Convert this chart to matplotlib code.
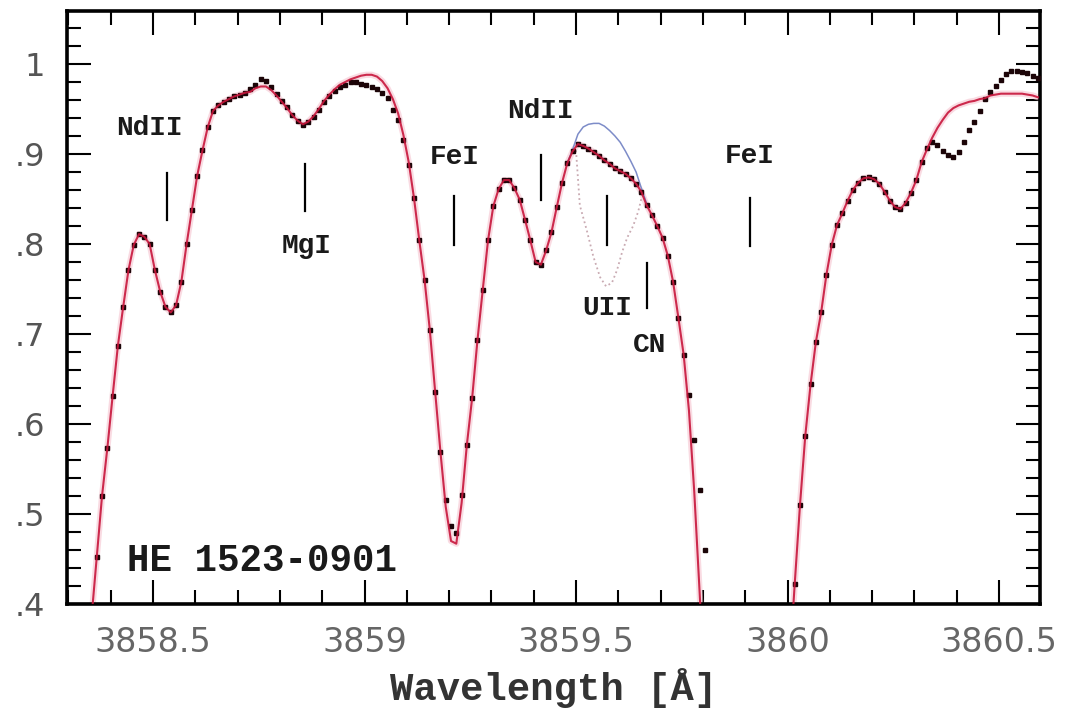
import matplotlib
matplotlib.use("Agg")
import matplotlib.pyplot as plt
import numpy as np
from matplotlib.ticker import MultipleLocator, FixedLocator, FixedFormatter

# observed spectrum, blue part (NaN = point below the plotted range)
wave_a = [
    3858.3545,
    3858.367, 3858.3795, 3858.392, 3858.4045, 3858.417, 3858.4295, 3858.442, 3858.4545,
    3858.467, 3858.4795, 3858.492, 3858.5045, 3858.517, 3858.5295, 3858.542, 3858.5545,
    3858.567, 3858.5795, 3858.592, 3858.6045, 3858.617, 3858.6295, 3858.642, 3858.6545,
    3858.667, 3858.6795, 3858.692, 3858.7045, 3858.717, 3858.7295, 3858.742, 3858.7545,
    3858.767, 3858.7795, 3858.792, 3858.8045, 3858.817, 3858.8295, 3858.842, 3858.8545,
    3858.867, 3858.8795, 3858.892, 3858.9045, 3858.917, 3858.9295, 3858.942, 3858.9545,
    3858.967, 3858.9795, 3858.992, 3859.0045, 3859.017, 3859.0295, 3859.042, 3859.0545,
    3859.067, 3859.0795, 3859.092, 3859.1045, 3859.117, 3859.1295, 3859.142, 3859.1545,
    3859.167, 3859.1795, 3859.192, 3859.2045, 3859.217, 3859.2295, 3859.242, 3859.2545,
    3859.267, 3859.2795, 3859.292, 3859.3045, 3859.317, 3859.3295, 3859.342, 3859.3545,
    3859.367, 3859.3795, 3859.392, 3859.4045, 3859.417, 3859.4295, 3859.442, 3859.4545,
    3859.467, 3859.4795, 3859.492, 3859.5045, 3859.517, 3859.5295, 3859.542, 3859.5545,
    3859.567, 3859.5795, 3859.592, 3859.6045, 3859.617, 3859.6295, 3859.642, 3859.6545,
    3859.667, 3859.6795, 3859.692, 3859.7045, 3859.717, 3859.7295, 3859.742, 3859.7545,
    3859.767, 3859.7795, 3859.792, 3859.8045, 3859.817,
]
obs_a = [
    np.nan,
    0.452, 0.520, 0.573, 0.631, 0.687, 0.730, 0.771, 0.799,
    0.811, 0.808, 0.800, 0.771, 0.747, 0.730, 0.724, 0.732,
    0.758, 0.800, 0.838, 0.876, 0.904, 0.930, 0.948, 0.954,
    0.958, 0.961, 0.964, 0.966, 0.968, 0.972, 0.977, 0.983,
    0.981, 0.974, 0.967, 0.959, 0.952, 0.943, 0.937, 0.932,
    0.936, 0.941, 0.949, 0.958, 0.964, 0.970, 0.974, 0.977,
    0.980, 0.980, 0.978, 0.977, 0.974, 0.972, 0.968, 0.962,
    0.949, 0.938, 0.916, 0.888, 0.851, 0.804, 0.760, 0.704,
    0.636, 0.569, 0.516, 0.487, 0.479, 0.521, 0.577, 0.629,
    0.693, 0.749, 0.804, 0.842, 0.861, 0.871, 0.871, 0.862,
    0.849, 0.827, 0.804, 0.780, 0.777, 0.793, 0.813, 0.841,
    0.868, 0.890, 0.903, 0.911, 0.909, 0.906, 0.902, 0.898,
    0.893, 0.889, 0.884, 0.881, 0.878, 0.873, 0.867, 0.858,
    0.843, 0.832, 0.820, 0.807, 0.787, 0.758, 0.718, 0.677,
    0.632, 0.582, 0.527, 0.460, np.nan,
]
model_a = [
    0.384,
    0.452, 0.520, 0.573, 0.631, 0.687, 0.730, 0.771, 0.799,
    0.811, 0.808, 0.800, 0.771, 0.747, 0.730, 0.724, 0.732,
    0.758, 0.800, 0.838, 0.876, 0.904, 0.930, 0.948, 0.954,
    0.958, 0.961, 0.964, 0.966, 0.968, 0.969, 0.973, 0.975,
    0.975, 0.971, 0.965, 0.958, 0.951, 0.943, 0.937, 0.933,
    0.936, 0.942, 0.950, 0.959, 0.966, 0.972, 0.977, 0.980,
    0.983, 0.985, 0.987, 0.988, 0.988, 0.986, 0.981, 0.973,
    0.961, 0.945, 0.921, 0.891, 0.851, 0.804, 0.760, 0.704,
    0.636, 0.569, 0.508, 0.470, 0.467, 0.512, 0.577, 0.629,
    0.693, 0.749, 0.804, 0.842, 0.861, 0.871, 0.871, 0.862,
    0.849, 0.827, 0.804, 0.780, 0.777, 0.793, 0.813, 0.841,
    0.868, 0.890, 0.903, 0.911, 0.909, 0.906, 0.902, 0.898,
    0.893, 0.889, 0.884, 0.881, 0.878, 0.873, 0.867, 0.858,
    0.843, 0.832, 0.820, 0.807, 0.787, 0.758, 0.718, 0.677,
    0.615, 0.525, 0.415, 0.300, 0.180,
]

# observed spectrum, red part
wave_b = [
    3860.0045,
    3860.017, 3860.0295, 3860.042, 3860.0545,
    3860.067, 3860.0795, 3860.092, 3860.1045, 3860.117, 3860.1295, 3860.142, 3860.1545,
    3860.167, 3860.1795, 3860.192, 3860.2045, 3860.217, 3860.2295, 3860.242, 3860.2545,
    3860.267, 3860.2795, 3860.292, 3860.3045, 3860.317, 3860.3295, 3860.342, 3860.3545,
    3860.367, 3860.3795, 3860.392, 3860.4045, 3860.417, 3860.4295, 3860.442, 3860.4545,
    3860.467, 3860.4795, 3860.492, 3860.5045, 3860.517, 3860.5295, 3860.542, 3860.5545,
    3860.567, 3860.5795, 3860.592,
]
obs_b = [
    np.nan,
    0.422, 0.510, 0.587, 0.644,
    0.691, 0.724, 0.766, 0.799, 0.821, 0.834, 0.848, 0.860,
    0.868, 0.873, 0.874, 0.872, 0.867, 0.858, 0.848, 0.841,
    0.839, 0.846, 0.857, 0.871, 0.891, 0.907, 0.913, 0.910,
    0.903, 0.899, 0.897, 0.902, 0.913, 0.927, 0.936, 0.948,
    0.961, 0.969, 0.976, 0.982, 0.989, 0.992, 0.992, 0.991,
    0.990, 0.987, 0.984,
]
model_b = [
    0.330,
    0.422, 0.510, 0.587, 0.644,
    0.691, 0.724, 0.766, 0.799, 0.821, 0.834, 0.848, 0.860,
    0.868, 0.873, 0.874, 0.872, 0.867, 0.858, 0.848, 0.841,
    0.839, 0.846, 0.857, 0.871, 0.891, 0.905, 0.918, 0.929,
    0.938, 0.946, 0.951, 0.954, 0.956, 0.958, 0.959, 0.961,
    0.962, 0.965, 0.966, 0.967, 0.967, 0.967, 0.967, 0.967,
    0.966, 0.965, 0.963,
]

# synthesis without uranium (blue)
noU_wave = [3859.4795, 3859.492, 3859.5045, 3859.517, 3859.5295, 3859.542, 3859.5545, 3859.567,
            3859.5795, 3859.592, 3859.6045, 3859.617, 3859.6295, 3859.642, 3859.6545, 3859.667]
noU_flux = [0.890, 0.905, 0.922, 0.930, 0.933, 0.934, 0.934, 0.931,
            0.926, 0.920, 0.913, 0.903, 0.892, 0.880, 0.862, 0.845]

# enhanced U synthesis (dotted)
hiU_wave = [3859.500, 3859.509, 3859.525, 3859.541, 3859.557, 3859.571, 3859.585,
            3859.597, 3859.609, 3859.621, 3859.635, 3859.647, 3859.658]
hiU_flux = [0.904, 0.843, 0.816, 0.786, 0.763, 0.753, 0.757,
            0.771, 0.791, 0.807, 0.820, 0.836, 0.857]

# line identifications
line_names = ["NdII", "MgI", "FeI", "NdII", "UII", "CN", "FeI"]
line_waves = [3858.534, 3858.859, 3859.212, 3859.417, 3859.573, 3859.667, 3859.911]
mark_lo = [0.827, 0.837, 0.799, 0.849, 0.799, 0.729, 0.798]
mark_hi = [0.879, 0.889, 0.853, 0.899, 0.853, 0.779, 0.851]
label_x = [3858.492, 3858.862, 3859.214, 3859.415, 3859.573, 3859.673, 3859.911]
label_y = [0.929, 0.798, 0.897, 0.948, 0.729, 0.688, 0.898]

xtick_vals = [3858.5, 3859.0, 3859.5, 3860.0, 3860.5]
xtick_text = ["3858.5", "3859", "3859.5", "3860", "3860.5"]
ytick_vals = [0.4, 0.5, 0.6, 0.7, 0.8, 0.9, 1.0]
ytick_text = [".4", ".5", ".6", ".7", ".8", ".9", "1"]

label_font = "Liberation Mono"
red = "#c8163c"

fig = plt.figure(figsize=(10.67, 7.08), dpi=100)
fig.patch.set_facecolor("white")
ax = fig.add_axes([0.0628, 0.1469, 0.9119, 0.8376])

# observed points
for w, f in ((wave_a, obs_a), (wave_b, obs_b)):
    ax.plot(w, f, linestyle="none", marker="s", markersize=3.0,
            color="#1c0508", zorder=3)

# best fit synthesis with soft halo
for w, f in ((wave_a, model_a), (wave_b, model_b)):
    ax.plot(w, f, color="#f6c4d0", lw=4.5, alpha=0.6, zorder=2, solid_capstyle="round")
    ax.plot(w, f, color=red, lw=1.5, alpha=0.9, zorder=4)

ax.plot(noU_wave, noU_flux, color="#7d8cc8", lw=1.1, zorder=2)
ax.plot(hiU_wave, hiU_flux, color="#c9aab2", lw=1.3, linestyle=":", zorder=2)

# identifications
for name, w, lo, hi, tx, ty in zip(line_names, line_waves, mark_lo, mark_hi, label_x, label_y):
    ax.plot([w, w], [lo, hi], color="black", lw=1.6, zorder=5)
    ax.text(tx, ty, name, ha="center", va="center", fontsize=20,
            family=label_font, fontweight="bold", color="#1a1a1a")

ax.text(3858.439, 0.448, "HE 1523-0901", ha="left", va="center", fontsize=27,
        family=label_font, fontweight="bold", color="#1a1a1a")

ax.set_xlim(3858.2967, 3860.5969)
ax.set_ylim(0.4, 1.0589)

ax.xaxis.set_major_locator(FixedLocator(xtick_vals))
ax.xaxis.set_major_formatter(FixedFormatter(xtick_text))
ax.xaxis.set_minor_locator(MultipleLocator(0.1))
ax.yaxis.set_major_locator(FixedLocator(ytick_vals))
ax.yaxis.set_major_formatter(FixedFormatter(ytick_text))
ax.yaxis.set_minor_locator(MultipleLocator(0.02))

ax.tick_params(which="both", direction="in", top=True, right=True, color="black")
ax.tick_params(which="major", length=17, width=1.5)
ax.tick_params(which="minor", length=10, width=1.5)
ax.tick_params(axis="x", which="major", labelsize=24, labelcolor="#666666", pad=16)
ax.tick_params(axis="y", which="major", labelsize=23, labelcolor="#555555", pad=16)
for s in ax.spines.values():
    s.set_linewidth(2.6)
    s.set_color("black")

ax.set_xlabel("Wavelength [Å]", fontsize=28, family=label_font, fontweight="bold",
              color="#333333", labelpad=6)

fig.savefig("out.png", dpi=100, facecolor="white")
